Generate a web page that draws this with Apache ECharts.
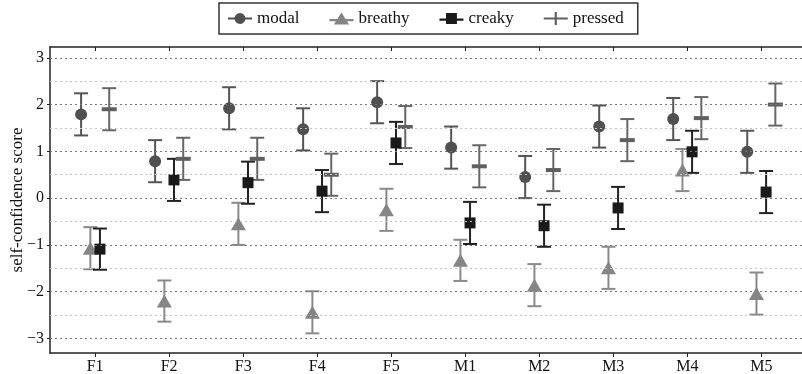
<!DOCTYPE html>
<html>
<head>
<meta charset="utf-8">
<script src="https://cdn.jsdelivr.net/npm/echarts@6/dist/echarts.min.js"></script>
<style>
  html, body { margin: 0; padding: 0; background: #fff; }
  #chart { width: 802px; height: 374px; }
</style>
</head>
<body>
<div id="chart"></div>
<script>
// speakers
var categories = ['F1', 'F2', 'F3', 'F4', 'F5', 'M1', 'M2', 'M3', 'M4', 'M5'];
// mean self-confidence score per phonation type
var modal   = [1.79, 0.79, 1.92, 1.47, 2.05, 1.08, 0.45, 1.53, 1.69, 0.99];
var breathy = [-1.07, -2.20, -0.55, -2.44, -0.25, -1.33, -1.86, -1.49, 0.60, -2.04];
var creaky  = [-1.09, 0.39, 0.33, 0.15, 1.18, -0.53, -0.59, -0.21, 0.99, 0.13];
var pressed = [1.90, 0.84, 0.84, 0.50, 1.52, 0.68, 0.60, 1.24, 1.71, 2.00];
// error bar half lengths
var modalErr   = [0.45, 0.45, 0.45, 0.45, 0.45, 0.45, 0.45, 0.45, 0.45, 0.45];
var breathyErr = [0.45, 0.44, 0.45, 0.45, 0.45, 0.44, 0.45, 0.45, 0.45, 0.45];
var creakyErr  = [0.44, 0.45, 0.45, 0.45, 0.45, 0.45, 0.45, 0.45, 0.45, 0.45];
var pressedErr = [0.45, 0.45, 0.45, 0.45, 0.45, 0.45, 0.45, 0.45, 0.45, 0.45];
// axis ticks
var yTicks = [-3, -2, -1, 0, 1, 2, 3];
var yGrid = [-3, -2.5, -2, -1.5, -1, -0.5, 0, 0.5, 1, 1.5, 2, 2.5, 3];

var font = 'Liberation Serif';
var xIdx = categories.map(function (c, i) { return i; });

function errSeries(vals, errs, off, color) {
  return {
    type: 'custom',
    z: 3,
    silent: true,
    data: vals.map(function (v, i) { return [i, v - errs[i], v + errs[i]]; }),
    encode: { x: 0, y: [1, 2] },
    renderItem: function (params, api) {
      var x = api.value(0) + off;
      var lo = api.coord([x, api.value(1)]);
      var hi = api.coord([x, api.value(2)]);
      var w = 7;
      var st = { stroke: color, lineWidth: 2 };
      return {
        type: 'group',
        children: [
          { type: 'line', shape: { x1: lo[0], y1: lo[1], x2: hi[0], y2: hi[1] }, style: st },
          { type: 'line', shape: { x1: lo[0] - w, y1: lo[1], x2: lo[0] + w, y2: lo[1] }, style: st },
          { type: 'line', shape: { x1: hi[0] - w, y1: hi[1], x2: hi[0] + w, y2: hi[1] }, style: st }
        ]
      };
    }
  };
}

function markSeries(name, vals, off, color, symbol, size) {
  return {
    name: name,
    type: 'scatter',
    z: 4,
    symbol: symbol,
    symbolSize: size,
    itemStyle: { color: color, opacity: 1 },
    data: vals.map(function (v, i) { return [i + off, v]; })
  };
}

var chart = echarts.init(document.getElementById('chart'));
chart.setOption({
  animation: false,
  textStyle: { fontFamily: font },
  grid: { left: 50, right: 0, top: 47, bottom: 21, containLabel: false, outerBoundsMode: 'none' },
  legend: {
    top: 3,
    left: 219,
    padding: [7, 14, 7, 9],
    itemGap: 30,
    itemWidth: 24,
    itemHeight: 14,
    borderColor: '#333',
    borderWidth: 1.5,
    borderRadius: 0,
    textStyle: { fontFamily: font, fontSize: 17, color: '#111' },
    data: [
      { name: 'modal', icon: 'path://M0,5H6.1A5,5 0 0,1 15.9,5H22V7H15.9A5,5 0 0,1 6.1,7H0Z' },
      { name: 'breathy', icon: 'path://M0,6H7.2L11,0L14.8,6H22V8H16.1L18,11H4L5.9,8H0Z' },
      { name: 'creaky', icon: 'path://M0,6H6V1H16V6H22V8H16V11H6V8H0Z' },
      { name: 'pressed', icon: 'path://M0,5H10V0H12V5H22V7H12V12H10V7H0Z' }
    ]
  },
  xAxis: [{
    type: 'value',
    min: -0.61,
    max: 9.55,
    splitLine: { show: false },
    axisLine: { show: true, onZero: false, lineStyle: { color: '#222', width: 1.5 } },
    axisTick: { show: true, inside: false, length: 4, customValues: xIdx, lineStyle: { color: '#222' } },
    axisLabel: {
      customValues: xIdx,
      margin: 6,
      fontFamily: font, fontSize: 16, color: '#111',
      formatter: function (v) { return categories[Math.round(v)]; }
    }
  }, {
    type: 'value',
    position: 'top',
    min: -0.61,
    max: 9.55,
    splitLine: { show: false },
    axisLine: { show: true, onZero: false, lineStyle: { color: '#222', width: 1.5 } },
    axisTick: { show: true, inside: true, length: 4, customValues: xIdx, lineStyle: { color: '#222' } },
    axisLabel: { show: false }
  }],
  yAxis: {
    type: 'value',
    min: -3.31,
    max: 3.23,
    name: 'self-confidence score',
    nameLocation: 'middle',
    nameGap: 24,
    nameMoveOverlap: false,
    nameTextStyle: { fontFamily: font, fontSize: 17, color: '#111' },
    splitLine: { show: false },
    axisLine: { show: true, onZero: false, lineStyle: { color: '#222', width: 1.5 } },
    axisTick: { show: true, inside: false, length: 3, customValues: yTicks, lineStyle: { color: '#222' } },
    axisLabel: {
      customValues: yTicks,
      margin: 6,
      fontFamily: font, fontSize: 16, color: '#111',
      formatter: function (v) { return v < 0 ? '\u2212' + Math.abs(v) : String(v); }
    }
  },
  series: [
    {
      type: 'line',
      z: 1,
      silent: true,
      data: [],
      markLine: {
        silent: true,
        symbol: 'none',
        label: { show: false },
        data: yGrid.map(function (v) {
          var major = Number.isInteger(v);
          return {
            yAxis: v,
            lineStyle: {
              color: major ? '#7a7a7a' : '#c4c4c4',
              width: major ? 1.2 : 1,
              type: [2, 3]
            }
          };
        })
      }
    },
    errSeries(modal, modalErr, -0.19, '#555555'),
    errSeries(breathy, breathyErr, -0.065, '#8a8a8a'),
    errSeries(creaky, creakyErr, 0.065, '#222222'),
    errSeries(pressed, pressedErr, 0.19, '#666666'),
    markSeries('modal', modal, -0.19, '#505050', 'circle', 12),
    markSeries('breathy', breathy, -0.065, '#858585', 'triangle', [15, 13]),
    markSeries('creaky', creaky, 0.065, '#1a1a1a', 'rect', 11),
    markSeries('pressed', pressed, 0.19, '#606060', 'rect', [15, 4])
  ]
});
</script>
</body>
</html>
